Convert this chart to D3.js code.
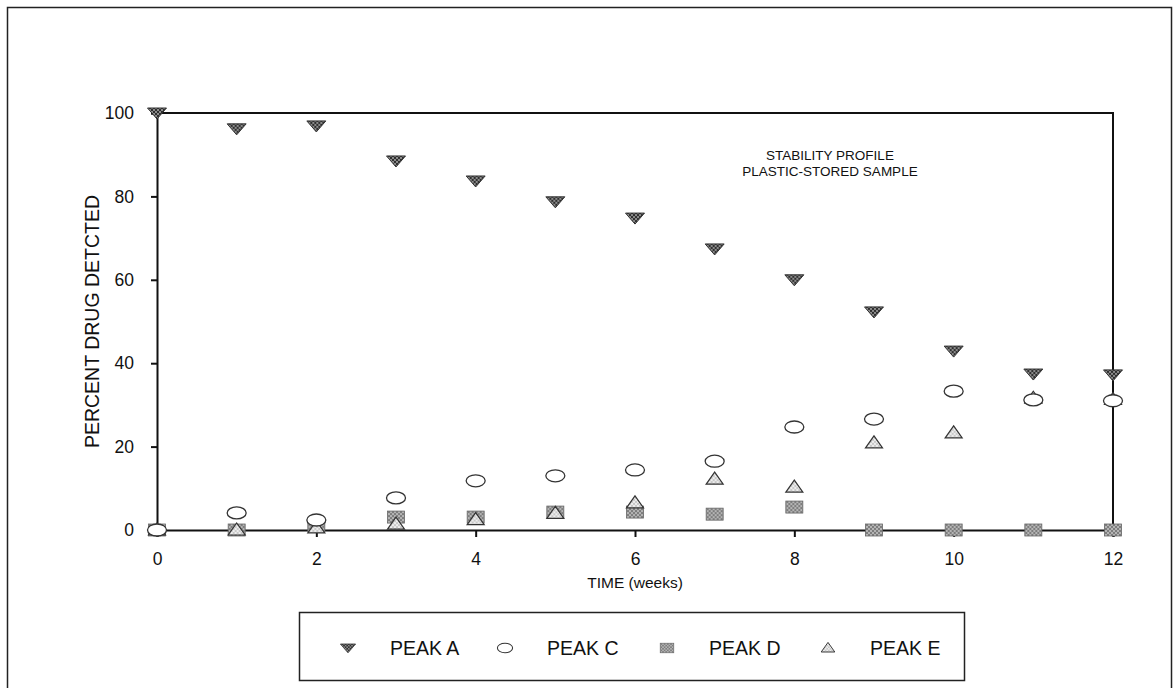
<!DOCTYPE html>
<html>
<head>
<meta charset="utf-8">
<script src="https://cdn.jsdelivr.net/npm/d3@7"></script>
<style>
  html, body { margin: 0; padding: 0; background: #fff; }
  svg { display: block; font-family: "Liberation Sans", Arial, sans-serif; }
</style>
</head>
<body>
<svg id="chart" width="1174" height="688"></svg>
<script>
// ---- data ----
const weeks = [0, 1, 2, 3, 4, 5, 6, 7, 8, 9, 10, 11, 12];
const peakA = [100, 96.2, 96.9, 88.5, 83.7, 78.7, 74.8, 67.4, 60.0, 52.3, 42.9, 37.4, 37.2];
const peakC = [0, 4.1, 2.4, 7.7, 11.8, 13.0, 14.4, 16.5, 24.7, 26.6, 33.3, 31.2, 31.0];
const peakD = [0, 0, 1.0, 3.1, 3.1, 4.3, 4.3, 3.8, 5.5, 0, 0, 0, 0];
const peakE = [0, 0, 0.5, 1.4, 2.5, 4.0, 6.5, 12.2, 10.3, 20.9, 23.3, 31.6, 31.3];
const xTicks = [0, 2, 4, 6, 8, 10, 12];
const yTicks = [0, 20, 40, 60, 80, 100];
const legendLabels = ["PEAK A", "PEAK C", "PEAK D", "PEAK E"];
const annotation = ["STABILITY PROFILE", "PLASTIC-STORED SAMPLE"];

const svg = d3.select("#chart");

// patterns
const defs = svg.append("defs");
function checker(id, c1, c2, size) {
  const p = defs.append("pattern").attr("id", id).attr("patternUnits", "userSpaceOnUse")
    .attr("width", size * 2).attr("height", size * 2);
  p.append("rect").attr("width", size * 2).attr("height", size * 2).attr("fill", c1);
  p.append("rect").attr("width", size).attr("height", size).attr("fill", c2);
  p.append("rect").attr("x", size).attr("y", size).attr("width", size).attr("height", size).attr("fill", c2);
}
checker("patA", "#2e2e2e", "#8c8c8c", 2);
checker("patD", "#7d7d7d", "#b4b4b4", 2);
checker("patE", "#c8c8c8", "#eeeeee", 2);

// outer frame
svg.append("rect").attr("x", 7.5).attr("y", 7.5).attr("width", 1164).attr("height", 700)
  .attr("fill", "none").attr("stroke", "#222").attr("stroke-width", 1.5);

const x = d3.scaleLinear().domain([0, 12]).range([157, 1113]);
const y = d3.scaleLinear().domain([0, 100]).range([530, 113]);

// plot frame (top and right)
const g = svg.append("g");
g.append("path")
  .attr("d", `M${x(0)},${y(100)}H${x(12)}V${y(0)}`)
  .attr("fill", "none").attr("stroke", "#111").attr("stroke-width", 2);

// axes
const xAxis = d3.axisBottom(x).tickValues(xTicks).tickSize(7).tickPadding(16).tickFormat(d3.format("d"));
const yAxis = d3.axisLeft(y).tickValues(yTicks).tickSize(6).tickPadding(17).tickFormat(d3.format("d"));
const gx = g.append("g").attr("transform", `translate(0,${y(0)})`).call(xAxis);
const gy = g.append("g").attr("transform", `translate(${x(0)},0)`).call(yAxis);
[gx, gy].forEach(a => {
  a.attr("font-size", null).attr("font-family", null);
  a.select(".domain").attr("stroke", "#111").attr("stroke-width", 2);
  a.selectAll(".tick line").attr("stroke", "#111").attr("stroke-width", 2);
  a.selectAll(".tick text").attr("fill", "#111").style("font-size", "17.5px");
});

// axis titles
svg.append("text").attr("x", (x(0) + x(12)) / 2).attr("y", 588).attr("text-anchor", "middle")
  .style("font-size", "15.5px").attr("fill", "#111").text("TIME (weeks)");
svg.append("text").attr("transform", `translate(99,${(y(0) + y(100)) / 2}) rotate(-90)`)
  .attr("text-anchor", "middle").style("font-size", "19.5px").attr("fill", "#111")
  .text("PERCENT DRUG DETCTED");

// annotation
svg.selectAll("text.ann").data(annotation).enter().append("text").attr("class", "ann")
  .attr("x", 830).attr("y", (d, i) => 160 + i * 16).attr("text-anchor", "middle")
  .style("font-size", "13.5px").attr("fill", "#111").text(d => d);

// marker drawers
function triDown(sel) {
  sel.append("path").attr("d", "M-9.5,-5L9.5,-5L0,6Z").attr("fill", "url(#patA)")
    .attr("stroke", "#333").attr("stroke-width", 1);
}
function ellipse(sel) {
  sel.append("ellipse").attr("rx", 9.5).attr("ry", 6).attr("fill", "#fff")
    .attr("stroke", "#333").attr("stroke-width", 1.3);
}
function square(sel) {
  sel.append("rect").attr("x", -8.5).attr("y", -6).attr("width", 17).attr("height", 12)
    .attr("fill", "url(#patD)").attr("stroke", "#666").attr("stroke-width", 0.8);
}
function triUp(sel) {
  sel.append("path").attr("d", "M0,-7L8.5,5L-8.5,5Z").attr("fill", "url(#patE)")
    .attr("stroke", "#333").attr("stroke-width", 1.2);
}

const series = [
  { vals: peakD, draw: square },
  { vals: peakE, draw: triUp },
  { vals: peakC, draw: ellipse },
  { vals: peakA, draw: triDown }
];
series.forEach(s => {
  const pts = g.append("g").selectAll("g").data(weeks.map((w, i) => [w, s.vals[i]]))
    .enter().append("g").attr("transform", d => `translate(${x(d[0])},${y(d[1])})`);
  s.draw(pts);
});

// legend
svg.append("rect").attr("x", 299.5).attr("y", 612.5).attr("width", 665).attr("height", 68)
  .attr("fill", "#fff").attr("stroke", "#222").attr("stroke-width", 1.5);
const legendDraw = [triDown, ellipse, square, triUp];
const legendX = [348, 505, 667, 828];
const lg = svg.append("g").selectAll("g").data(legendLabels).enter().append("g")
  .attr("transform", (d, i) => `translate(${legendX[i]},648)`);
lg.each(function (d, i) {
  const s = d3.select(this).append("g").attr("transform", "scale(0.8)");
  legendDraw[i](s);
});
lg.append("text").attr("x", 42).attr("y", 7).style("font-size", "19.5px").attr("fill", "#111").text(d => d);
</script>
</body>
</html>
